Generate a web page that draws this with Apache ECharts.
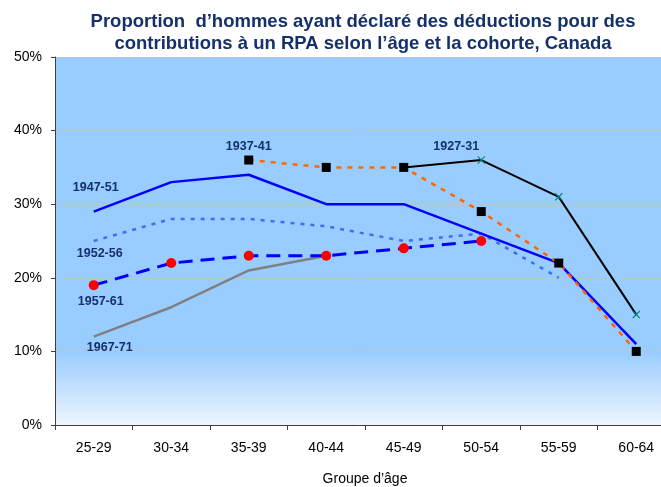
<!DOCTYPE html>
<html>
<head>
<meta charset="utf-8">
<script src="https://cdn.jsdelivr.net/npm/echarts@6/dist/echarts.min.js"></script>
<style>html,body{margin:0;padding:0;background:#fff}#c{width:661px;height:487px}</style>
</head>
<body>
<div id="c"></div>
<script>
const categories = ['25-29','30-34','35-39','40-44','45-49','50-54','55-59','60-64'];
const yTicks = [0,10,20,30,40,50];
const c1927 = [null,null,null,null,35,36,31,15];
const c1937 = [null,null,36,35,35,29,22,10];
const c1947 = [29,33,34,30,30,26,22,11];
const c1952 = [25,28,28,27,25,26,20,null];
const c1957 = [19,22,23,23,24,25,null,null];
const c1967 = [12,16,21,23,null,null,null,null];

const navy = '#15306b';
const font = 'Liberation Sans, Arial, sans-serif';
function lab(arr, idx, text, offset) {
  return arr.map((v, i) => i === idx ? {value: v, label: {show: true, formatter: text, position: 'inside', offset: offset, color: navy, fontWeight: 'bold', fontSize: 12.5, fontFamily: font}} : v);
}
const xPath = 'path://M0,1L1,0L5,4L9,0L10,1L6,5L10,9L9,10L5,6L1,10L0,9L4,5Z';

const chart = echarts.init(document.getElementById('c'));
chart.setOption({
  animation: false,
  title: {
    text: "Proportion  d\u2019hommes ayant déclaré des déductions pour des\ncontributions à un RPA selon l\u2019âge et la cohorte, Canada",
    left: 358, textAlign: 'center', top: 6,
    textStyle: {color: navy, fontSize: 18.5, fontWeight: 'bold', fontFamily: font, lineHeight: 22}
  },
  grid: {
    left: 55, top: 57, width: 620, height: 368, show: true, borderWidth: 0,
    outerBoundsMode: 'none', containLabel: false,
    backgroundColor: {type: 'linear', x: 0, y: 0, x2: 0, y2: 1, colorStops: [
      {offset: 0, color: '#99ccff'}, {offset: 0.8, color: '#99ccff'}, {offset: 1, color: '#eef5ff'}]}
  },
  xAxis: {
    type: 'category', data: categories, boundaryGap: true,
    name: 'Groupe d\u2019âge', nameLocation: 'middle', nameGap: 47,
    nameTextStyle: {color: '#000', fontSize: 14, fontFamily: font},
    axisLine: {lineStyle: {color: '#404040', width: 1}},
    axisTick: {show: true, alignWithLabel: false, length: 5, lineStyle: {color: '#404040'}},
    axisLabel: {color: '#000', fontSize: 14, fontFamily: font, margin: 16},
    splitLine: {show: false}
  },
  yAxis: {
    type: 'value', min: yTicks[0], max: yTicks[yTicks.length - 1], interval: 10,
    axisLine: {show: true, lineStyle: {color: '#404040', width: 1}},
    axisTick: {show: true, length: 4, lineStyle: {color: '#404040'}},
    axisLabel: {color: '#000', fontSize: 14, fontFamily: font, margin: 13, formatter: '{value}%'},
    splitLine: {show: true, lineStyle: {color: '#b8c4d0', width: 1}}
  },
  series: [
    {name: '1967-71', type: 'line', data: lab(c1967, 0, '1967-71', [16, 11]), symbol: 'circle', symbolSize: 0,
     lineStyle: {color: '#808080', width: 2.5}, itemStyle: {color: '#808080'}},
    {name: '1952-56', type: 'line', data: lab(c1952, 0, '1952-56', [6, 13]), symbol: 'circle', symbolSize: 0,
     lineStyle: {color: '#3f6fef', width: 2.5, type: [4, 6]}, itemStyle: {color: '#3f6fef'}},
    {name: '1957-61', type: 'line', data: lab(c1957, 0, '1957-61', [7, 16]), symbol: 'circle', symbolSize: 10,
     lineStyle: {color: '#0000ff', width: 3, type: [14, 8]}, itemStyle: {color: '#ff0000'}},
    {name: '1947-51', type: 'line', data: lab(c1947, 0, '1947-51', [2, -24]), symbol: 'circle', symbolSize: 0,
     lineStyle: {color: '#0000ff', width: 2.5}, itemStyle: {color: '#0000ff'}},
    {name: '1937-41', type: 'line', data: lab(c1937, 2, '1937-41', [0, -13]), symbol: 'rect', symbolSize: 9,
     lineStyle: {color: '#ff6600', width: 2.5, type: [5, 6]}, itemStyle: {color: '#000000'}},
    {name: '1927-31', type: 'line', data: lab(c1927, 5, '1927-31', [-25, -13]), symbol: xPath, symbolSize: 8,
     lineStyle: {color: '#000000', width: 2}, itemStyle: {color: '#008080'}, z: 1}
  ]
});
</script>
</body>
</html>
